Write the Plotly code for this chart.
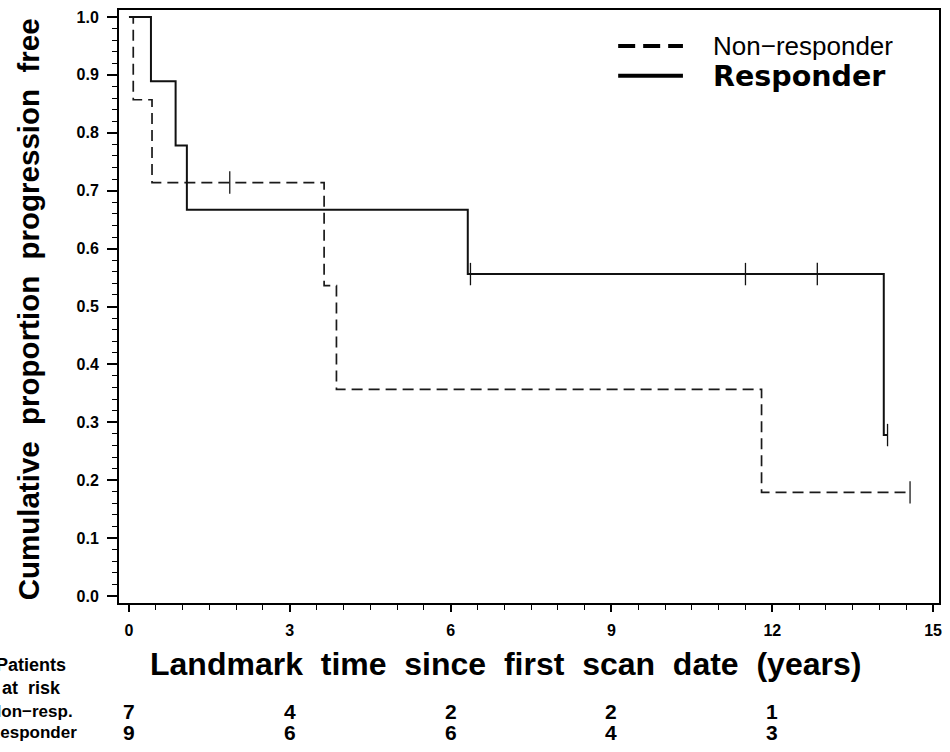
import plotly.graph_objects as go

# ---- Data ----
resp_event_t = [0.0, 0.41, 0.87, 1.08, 6.32, 14.08]
resp_surv = [1.0, 0.889, 0.778, 0.667, 0.556, 0.278]
resp_end_t = 14.15
resp_censor_t = [6.37, 11.50, 12.84, 14.15]

non_event_t = [0.0, 0.08, 0.43, 3.64, 3.87, 11.80]
non_surv = [1.0, 0.857, 0.714, 0.536, 0.357, 0.179]
non_end_t = 14.57
non_censor_t = [1.88, 14.57]

risk_times = [0, 3, 6, 9, 12]
risk_non = [7, 4, 2, 2, 1]
risk_resp = [9, 6, 6, 4, 3]

x_ticks = [0, 3, 6, 9, 12, 15]
y_ticks = [0.0, 0.1, 0.2, 0.3, 0.4, 0.5, 0.6, 0.7, 0.8, 0.9, 1.0]
y_ticklabels = [f"{v:.1f}" for v in y_ticks]


def step_value(times, surv, t):
    val = surv[0]
    for ti, si in zip(times, surv):
        if ti <= t:
            val = si
    return val


SANS = "Liberation Sans, Arial, sans-serif"
WIDE = "DejaVu Sans, Verdana, sans-serif"
NBSP = "\u00a0"

fig = go.Figure()

# Non-responder curve (dashed)
fig.add_trace(go.Scatter(
    x=non_event_t + [non_end_t],
    y=non_surv + [non_surv[-1]],
    mode="lines", line=dict(shape="hv", color="#1a1a1a", width=1.7, dash="11px,6px"),
    showlegend=False, hoverinfo="skip"))
# Responder curve (solid)
fig.add_trace(go.Scatter(
    x=resp_event_t + [resp_end_t],
    y=resp_surv + [resp_surv[-1]],
    mode="lines", line=dict(shape="hv", color="#111", width=2),
    showlegend=False, hoverinfo="skip"))
# Censor marks
fig.add_trace(go.Scatter(
    x=non_censor_t,
    y=[step_value(non_event_t, non_surv, t) for t in non_censor_t],
    mode="markers",
    marker=dict(symbol="line-ns", size=16, line=dict(color="#1a1a1a", width=1.3)),
    showlegend=False, hoverinfo="skip"))
fig.add_trace(go.Scatter(
    x=resp_censor_t,
    y=[step_value(resp_event_t, resp_surv, t) for t in resp_censor_t],
    mode="markers",
    marker=dict(symbol="line-ns", size=16, line=dict(color="#111", width=1.3)),
    showlegend=False, hoverinfo="skip"))

L, R, T, B = 119, 8, 8, 149
W, H = 950, 752
pw, ph = W - L - R, H - T - B


def px(xp):
    return (xp - L) / pw


def py(yp):
    return (H - B - yp) / ph


annotations = []
shapes = []

# Legend
shapes.append(dict(type="line", xref="paper", yref="paper",
                   x0=px(620), x1=px(685), y0=py(44), y1=py(44),
                   line=dict(color="black", width=4, dash="17px,8px")))
shapes.append(dict(type="line", xref="paper", yref="paper",
                   x0=px(620), x1=px(685), y0=py(74), y1=py(74),
                   line=dict(color="black", width=4)))
annotations.append(dict(text="Non\u2212responder", xref="paper", yref="paper",
                        x=px(713), y=py(44), xanchor="left", yanchor="middle",
                        showarrow=False, font=dict(family=SANS, size=26, color="black")))
annotations.append(dict(text="<b>Responder</b>", xref="paper", yref="paper",
                        x=px(713), y=py(75), xanchor="left", yanchor="middle",
                        showarrow=False, font=dict(family=WIDE, size=28.5, color="black")))

# Axis titles
annotations.append(dict(
    text="<b>" + (NBSP * 2).join("Landmark time since first scan date (years)".split(" ")) + "</b>",
    xref="paper", yref="paper", x=px(507), y=py(664), xanchor="center", yanchor="middle",
    showarrow=False, font=dict(family=SANS, size=32, color="black")))
annotations.append(dict(
    text="<b>" + (NBSP * 2).join("Cumulative proportion progression free".split(" ")) + "</b>",
    xref="paper", yref="paper", x=px(29), y=py(308), xanchor="center", yanchor="middle",
    textangle=-90, showarrow=False, font=dict(family=SANS, size=29.5, color="black")))

# Patients at risk table (partly cut at the left edge, as in the reference)
annotations.append(dict(text="<b>Patients</b>", xref="paper", yref="paper",
                        x=px(31), y=py(665), xanchor="center", yanchor="middle",
                        showarrow=False, font=dict(family=SANS, size=18, color="black")))
annotations.append(dict(text="<b>at" + NBSP * 2 + "risk</b>", xref="paper", yref="paper",
                        x=px(31), y=py(688), xanchor="center", yanchor="middle",
                        showarrow=False, font=dict(family=SANS, size=18, color="black")))
annotations.append(dict(text="<b>Non\u2212resp.</b>", xref="paper", yref="paper",
                        x=px(-13), y=py(712), xanchor="left", yanchor="middle",
                        showarrow=False, font=dict(family=SANS, size=17, color="black")))
annotations.append(dict(text="<b>Responder</b>", xref="paper", yref="paper",
                        x=px(-14), y=py(733), xanchor="left", yanchor="middle",
                        showarrow=False, font=dict(family=SANS, size=17, color="black")))
for t, n in zip(risk_times, risk_non):
    annotations.append(dict(text=f"<b>{n}</b>", xref="x", yref="paper", x=t, y=py(712),
                            xanchor="center", yanchor="middle", showarrow=False,
                            font=dict(family=SANS, size=21, color="black")))
for t, n in zip(risk_times, risk_resp):
    annotations.append(dict(text=f"<b>{n}</b>", xref="x", yref="paper", x=t, y=py(733),
                            xanchor="center", yanchor="middle", showarrow=False,
                            font=dict(family=SANS, size=21, color="black")))

fig.update_layout(
    width=W, height=H,
    margin=dict(l=L, r=R, t=T, b=B),
    paper_bgcolor="white", plot_bgcolor="white",
    showlegend=False,
    annotations=annotations, shapes=shapes,
    xaxis=dict(range=[-0.186, 15.11], tickvals=x_ticks, ticktext=[f"<b>{v}</b>" for v in x_ticks],
               ticks="outside", ticklen=7, tickwidth=1.5, tickcolor="black",
               minor=dict(dtick=0.5, tick0=0, ticks="outside", ticklen=5, tickwidth=1.2, tickcolor="black"),
               showline=True, linecolor="black", linewidth=2, mirror=True,
               showgrid=False, zeroline=False, ticklabelstandoff=5,
               tickfont=dict(family=SANS, size=16, color="black")),
    yaxis=dict(range=[-0.012, 1.012], tickvals=y_ticks, ticktext=[f"<b>{s}</b>" for s in y_ticklabels],
               ticks="outside", ticklen=10, tickwidth=1.5, tickcolor="black",
               minor=dict(dtick=0.02, tick0=0, ticks="outside", ticklen=5, tickwidth=1.2, tickcolor="black"),
               showline=True, linecolor="black", linewidth=2, mirror=True,
               showgrid=False, zeroline=False, ticklabelstandoff=5,
               tickfont=dict(family=SANS, size=16, color="black")),
)

fig.write_html("out.html", config={"displayModeBar": False},
               post_script="document.body.style.margin='0';")
